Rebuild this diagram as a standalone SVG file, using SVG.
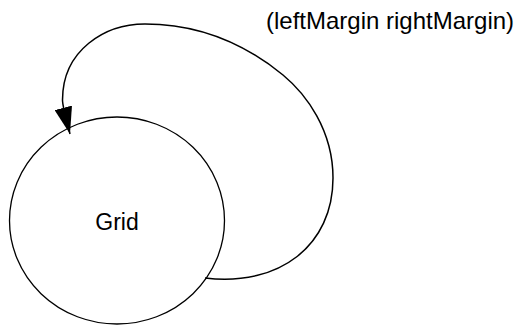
<svg xmlns="http://www.w3.org/2000/svg" width="514" height="326" viewBox="0 0 514 326">
<defs>
<style>
.node{fill:none;stroke:#000;stroke-width:1.3}
.edge{fill:none;stroke:#000;stroke-width:1.5}
.lbl{font-family:"Liberation Sans",Arial,sans-serif;fill:#000}
</style>
<marker id="arr" viewBox="0 0 27 18" refX="27" refY="9" markerWidth="27" markerHeight="18" markerUnits="userSpaceOnUse" orient="auto">
<path d="M0,0 L27,9 L0,18 z" fill="#000"/>
</marker>
</defs>
<rect width="514" height="326" fill="#fff"/>
<g id="connectors">
<path class="edge" d="M205,278 C280,287 333,245 333,178 C333,130 306,94 283,75 C240.4,40.2 195,24 145,24 C105,24 62.5,50 62.5,100 C62.5,106 65,114.6 70,134" marker-end="url(#arr)"/>
<text class="lbl" x="266" y="29" font-size="24">(leftMargin rightMargin)</text>
</g>
<g id="grid">
<ellipse class="node" cx="117" cy="220.5" rx="107.5" ry="103.5"/>
<text class="lbl" x="117" y="230" font-size="23" text-anchor="middle">Grid</text>
</g>
</svg>
